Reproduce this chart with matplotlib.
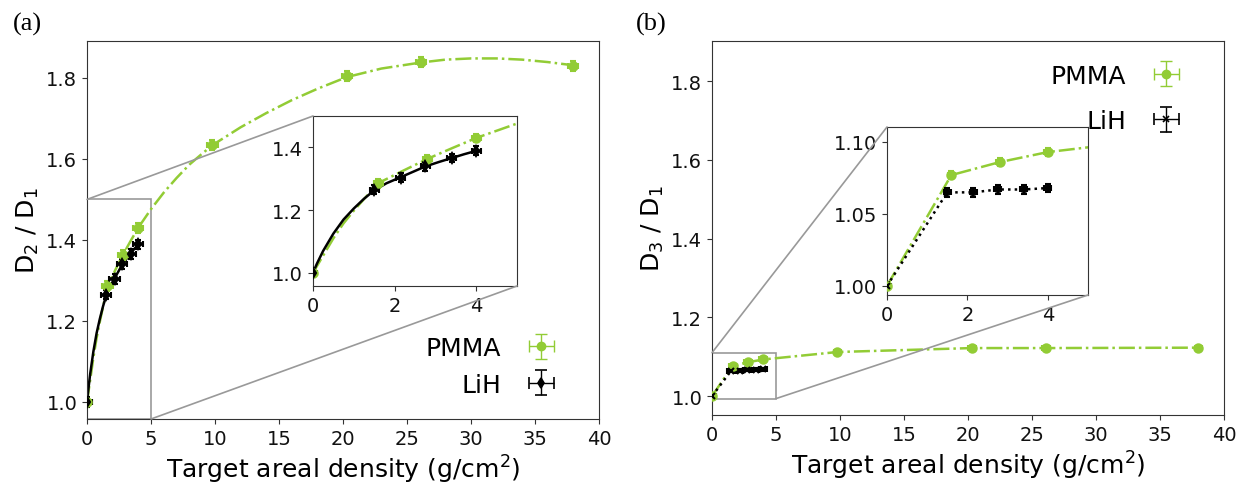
import numpy as np
import matplotlib.pyplot as plt
from matplotlib.patches import Rectangle, ConnectionPatch

# measured points
x_pmma = [0, 1.6, 2.8, 4.0, 9.8, 20.3, 26.1, 38.0]
d2_pmma = [1.0, 1.286, 1.363, 1.430, 1.634, 1.804, 1.839, 1.830]
d3_pmma = [1.0, 1.077, 1.086, 1.093, 1.112, 1.122, 1.122, 1.123]

x_lih = [0, 1.5, 2.15, 2.75, 3.4, 4.0]
d2_lih = [1.0, 1.265, 1.303, 1.340, 1.366, 1.389]
d3_lih = [1.0, 1.065, 1.065, 1.067, 1.067, 1.068]

# fit curves for panel (a)
fit_pmma_x = [0, 0.25, 0.5, 0.75, 1.0, 1.25, 1.6, 2.2, 2.8, 3.4, 4.0, 5.0, 6.0, 7.0,
              8.0, 9.0, 9.8, 12, 14, 16, 18, 20.3, 23, 26.1, 28, 30, 32, 34, 36, 38]
fit_pmma_y = [1.0, 1.055, 1.110, 1.158, 1.198, 1.235, 1.286, 1.325, 1.363, 1.397, 1.430,
              1.476, 1.517, 1.553, 1.586, 1.613, 1.634, 1.678, 1.713, 1.745, 1.773, 1.802,
              1.823, 1.838, 1.845, 1.848, 1.848, 1.845, 1.839, 1.831]
fit_lih_x = [0, 0.1, 0.25, 0.5, 0.75, 1.0, 1.25, 1.5, 1.8, 2.15, 2.45, 2.75, 3.1, 3.4, 3.7, 4.0]
fit_lih_y = [1.0, 1.030, 1.070, 1.125, 1.170, 1.205, 1.236, 1.263, 1.2855, 1.305, 1.322,
             1.339, 1.354, 1.366, 1.378, 1.389]

green = '#92cc35'
spine_c = '#333333'

plt.rcParams['font.family'] = 'DejaVu Sans'
fig = plt.figure(figsize=(12.36, 4.89), dpi=100)

ax1 = fig.add_axes([0.0704, 0.1411, 0.4142, 0.7730])
ax2 = fig.add_axes([0.5761, 0.1493, 0.4142, 0.7648])
in1 = fig.add_axes([0.2532, 0.4131, 0.1651, 0.3476])
in2 = fig.add_axes([0.7176, 0.3947, 0.1627, 0.3435])


def style(ax, size):
    for s in ax.spines.values():
        s.set_color(spine_c)
    ax.tick_params(labelsize=size, colors='#111111', color=spine_c)


def points(ax, x, y, xe, ye, fmt, color, ms):
    ax.errorbar(x, y, xerr=xe, yerr=ye, fmt=fmt, color=color, ms=ms, mew=1.5,
                elinewidth=2.6, capsize=2.5, capthick=2.2, zorder=3)


def legend_proxies(ax, lih_fmt):
    ax.errorbar([np.nan], [np.nan], xerr=[1], yerr=[1], fmt='o', color=green, ms=6,
                elinewidth=1.0, capsize=4, capthick=1.0, label='PMMA')
    ax.errorbar([np.nan], [np.nan], xerr=[1], yerr=[1], fmt=lih_fmt, color='black', ms=5,
                mew=1.2, elinewidth=1.0, capsize=4, capthick=1.0, label='LiH')


# panel (a)
for ax, xe, ye in [(ax1, 0.4, 0.012), (in1, 0.11, 0.014)]:
    ax.plot(fit_pmma_x, fit_pmma_y, '-.', color=green, lw=1.8, zorder=2)
    ax.plot(fit_lih_x, fit_lih_y, '-', color='black', lw=1.8, zorder=2)
    points(ax, x_pmma, d2_pmma, xe, ye, 'o', green, 6)
    points(ax, x_lih, d2_lih, xe, ye, 'd', 'black', 5)
legend_proxies(ax1, 'd')

ax1.set_xlim(0, 40)
ax1.set_ylim(0.958, 1.891)
ax1.set_xticks(np.arange(0, 41, 5))
ax1.set_yticks([1.0, 1.2, 1.4, 1.6, 1.8])
ax1.set_xlabel('Target areal density (g/cm$^2$)', fontsize=18)
ax1.set_ylabel('D$_2$ / D$_1$', fontsize=18)
style(ax1, 14)
ax1.legend(loc='lower right', bbox_to_anchor=(0.97, 0.0), frameon=False,
           markerfirst=False, fontsize=18, handlelength=1.6, labelspacing=0.5)

in1.set_xlim(0, 5)
in1.set_ylim(0.958, 1.50)
in1.set_xticks([0, 2, 4])
in1.set_yticks([1.0, 1.2, 1.4])
style(in1, 14)

# panel (b)
for ax, xe, ye in [(ax2, 0.3, 0.004), (in2, 0.09, 0.003)]:
    ax.plot(x_pmma, d3_pmma, '-.', color=green, lw=1.8, zorder=2)
    ax.plot(x_lih, d3_lih, ':', color='black', lw=1.8, zorder=2)
    points(ax, x_pmma, d3_pmma, xe, ye, 'o', green, 6)
    points(ax, x_lih, d3_lih, xe, ye, 'x', 'black', 5)
legend_proxies(ax2, 'x')

ax2.set_xlim(0, 40)
ax2.set_ylim(0.952, 1.902)
ax2.set_xticks(np.arange(0, 41, 5))
ax2.set_yticks([1.0, 1.2, 1.4, 1.6, 1.8])
ax2.set_xlabel('Target areal density (g/cm$^2$)', fontsize=18)
ax2.set_ylabel('D$_3$ / D$_1$', fontsize=18)
style(ax2, 14)
ax2.legend(loc='upper right', bbox_to_anchor=(0.97, 1.0), frameon=False,
           markerfirst=False, fontsize=18, handlelength=1.6, labelspacing=0.85)

in2.set_xlim(0, 5)
in2.set_ylim(0.9937, 1.1104)
in2.set_xticks([0, 2, 4])
in2.set_yticks([1.00, 1.05, 1.10])
in2.set_yticklabels(['1.00', '1.05', '1.10'])
style(in2, 14)

# zoom boxes and connectors
for ax, ins in [(ax1, in1), (ax2, in2)]:
    y0, y1 = ins.get_ylim()
    ax.add_patch(Rectangle((0, y0), 5, y1 - y0, fill=False, ec='0.6', lw=1.2, zorder=1))
    for (px, py), (qx, qy) in [((0, y1), (0, 1)), ((5, y0), (1, 0))]:
        cp = ConnectionPatch(xyA=(px, py), coordsA=ax.transData, xyB=(qx, qy),
                             coordsB=ins.transAxes, color='0.6', lw=1.2)
        fig.add_artist(cp)

fig.text(0.0105, 0.951, '(a)', fontsize=19, family='Liberation Serif', va='center')
fig.text(0.5146, 0.951, '(b)', fontsize=19, family='Liberation Serif', va='center')

fig.savefig('out.png', dpi=100)
